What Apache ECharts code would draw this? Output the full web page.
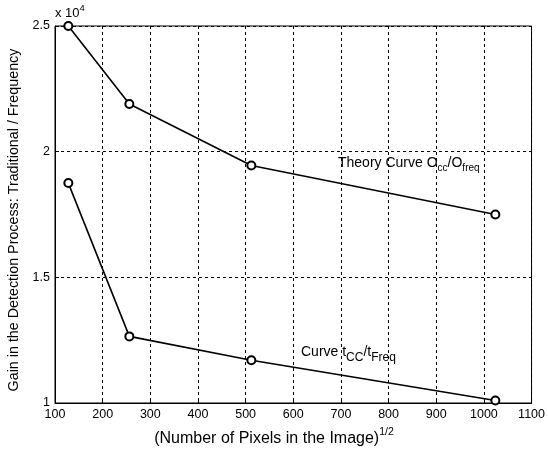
<!DOCTYPE html>
<html><head><meta charset="utf-8">
<script src="https://cdn.jsdelivr.net/npm/echarts@6/dist/echarts.min.js"></script>
<style>html,body{margin:0;padding:0;background:#fff}#c{width:548px;height:457px}</style>
</head><body><div id="c"></div>
<script>
var pixels = [128, 256, 512, 1024];
var theoryGain = [25000, 21900, 19450, 17500];
var curveGain = [18750, 12650, 11700, 10100];
var xTicks = [100,200,300,400,500,600,700,800,900,1000,1100];
var yTicks = [10000, 15000, 20000, 25000];

var F = 'Liberation Sans, Arial, sans-serif';
var chart = echarts.init(document.getElementById('c'));
function pts(ys){ return pixels.map(function(x,i){return [x, ys[i]];}); }
var lineSeries = function(name, ys){
  return {name:name, type:'line', data:pts(ys), symbol:'circle', symbolSize:8,
    itemStyle:{color:'#fff', borderColor:'#000', borderWidth:2},
    lineStyle:{color:'#000', width:1.6}, animation:false, z:5};
};
chart.setOption({
  animation:false,
  backgroundColor:'#fff',
  grid:{left:55, right:16, top:26, bottom:54, show:true, borderColor:'#000', borderWidth:1, backgroundColor:'transparent'},
  xAxis:{type:'value', min:100, max:1100, interval:100,
    axisLine:{show:true, onZero:false, lineStyle:{color:'#000'}},
    axisTick:{show:true, inside:true, length:4, lineStyle:{color:'#000'}},
    axisLabel:{color:'#000', fontFamily:F, fontSize:12.5, margin:5, formatter:function(v){return String(v);}},
    splitLine:{show:true, lineStyle:{color:'#000', type:[3,3], width:1}}
  },
  yAxis:{type:'value', min:10000, max:25000, interval:5000,
    axisLine:{show:true, onZero:false, lineStyle:{color:'#000'}},
    axisTick:{show:true, inside:true, length:4, lineStyle:{color:'#000'}},
    axisLabel:{color:'#000', fontFamily:F, fontSize:12.5, margin:5, formatter:function(v){return String(v/10000);}},
    splitLine:{show:true, lineStyle:{color:'#000', type:[3,3], width:1}}
  },
  series:[lineSeries('Theory', theoryGain), lineSeries('Curve', curveGain)],
  graphic:[
    {type:'text', left:55, top:3, style:{text:'{a|x 10}{s|4}', rich:{a:{fontSize:13,fontFamily:F,fill:'#000',lineHeight:17,verticalAlign:'bottom'}, s:{fontSize:9.5,fontFamily:F,fill:'#000',lineHeight:17,verticalAlign:'top'}}}},
    {type:'text', x:14, y:220, rotation:Math.PI/2, style:{text:'Gain in the Detection Process: Traditional / Frequency', fontSize:14.3, fontFamily:F, fill:'#000', align:'center', verticalAlign:'middle'}},
    {type:'text', left:'center', top:427, style:{text:'{a|(Number of Pixels in the Image)}{s|1/2}', rich:{a:{fontSize:16,fontFamily:F,fill:'#000',lineHeight:20,verticalAlign:'bottom'}, s:{fontSize:10.5,fontFamily:F,fill:'#000',lineHeight:20,verticalAlign:'top'}}}},
    {type:'text', left:338, top:156, style:{text:'{a|Theory Curve O}{s|cc}{a|/O}{s|freq}', rich:{a:{fontSize:14,fontFamily:F,fill:'#000',lineHeight:17,verticalAlign:'top'}, s:{fontSize:10,fontFamily:F,fill:'#000',lineHeight:17,verticalAlign:'bottom'}}}},
    {type:'text', left:301, top:345, style:{text:'{a|Curve t}{s|CC}{a|/t}{s|Freq}', rich:{a:{fontSize:14,fontFamily:F,fill:'#000',lineHeight:19,verticalAlign:'top'}, s:{fontSize:12,fontFamily:F,fill:'#000',lineHeight:19,verticalAlign:'bottom'}}}}
  ]
});
</script></body></html>
